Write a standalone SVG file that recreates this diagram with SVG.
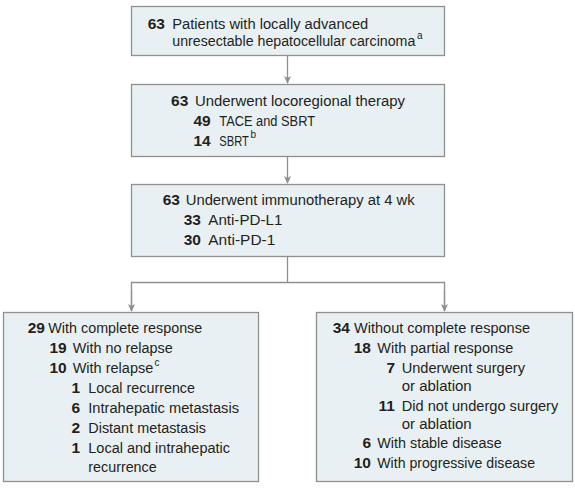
<svg xmlns="http://www.w3.org/2000/svg" width="575" height="488" viewBox="0 0 575 488">
<style>
.box{fill:#e9f0f4;stroke:#8f8f8f;stroke-width:1.3}
.t{font-family:"Liberation Sans",Arial,sans-serif;font-size:15.5px;fill:#231f20}
.n{font-weight:bold;text-anchor:end}
.s{font-size:10px}
.c{fill:none;stroke:#8f8f8f;stroke-width:1.3}
</style>
<defs>
<marker id="ah" markerWidth="8" markerHeight="10" refX="7" refY="4" orient="auto" markerUnits="userSpaceOnUse" viewBox="0 0 8 8">
<path d="M0,0.5 L8,4 L0,7.5 L2,4 Z" fill="#8f8f8f"/>
</marker>
</defs>
<g id="connectors">
<line class="c" x1="287.5" y1="55.5" x2="287.5" y2="83" marker-end="url(#ah)"/>
<line class="c" x1="287.5" y1="156.5" x2="287.5" y2="183" marker-end="url(#ah)"/>
<polyline class="c" points="287.5,256.5 287.5,282.5"/>
<polyline class="c" points="131.5,311 131.5,282.5 444.5,282.5 444.5,311" />
<line class="c" x1="131.5" y1="290" x2="131.5" y2="311" marker-end="url(#ah)"/>
<line class="c" x1="444.5" y1="290" x2="444.5" y2="311" marker-end="url(#ah)"/>
</g>
<g id="n1">
<rect class="box" x="131.5" y="6.5" width="313" height="49"/>
<text class="t n" x="165" y="28.5">63</text>
<text class="t" x="172.3" y="28.5" textLength="196" lengthAdjust="spacingAndGlyphs">Patients with locally advanced</text>
<text class="t" x="172.3" y="46" textLength="243" lengthAdjust="spacingAndGlyphs">unresectable hepatocellular carcinoma</text>
<text class="t s" x="417" y="38.5">a</text>
</g>
<g id="n2">
<rect class="box" x="131.5" y="84.5" width="313" height="72"/>
<text class="t n" x="188.3" y="106">63</text>
<text class="t" x="195" y="106" textLength="210" lengthAdjust="spacingAndGlyphs">Underwent locoregional therapy</text>
<text class="t n" x="210.7" y="126">49</text>
<text class="t" x="219.3" y="126" textLength="95.7" lengthAdjust="spacingAndGlyphs">TACE and SBRT</text>
<text class="t n" x="210.7" y="145.5">14</text>
<text class="t" x="219.3" y="145.5" textLength="29.5" lengthAdjust="spacingAndGlyphs">SBRT</text>
<text class="t s" x="250.5" y="138">b</text>
</g>
<g id="n3">
<rect class="box" x="131.5" y="184.5" width="313" height="72"/>
<text class="t n" x="180" y="205">63</text>
<text class="t" x="185.7" y="205" textLength="229" lengthAdjust="spacingAndGlyphs">Underwent immunotherapy at 4 wk</text>
<text class="t n" x="201" y="225">33</text>
<text class="t" x="208.3" y="225" textLength="74" lengthAdjust="spacingAndGlyphs">Anti-PD-L1</text>
<text class="t n" x="201" y="245">30</text>
<text class="t" x="208.3" y="245" textLength="67" lengthAdjust="spacingAndGlyphs">Anti-PD-1</text>
</g>
<g id="n4">
<rect class="box" x="3.5" y="312.5" width="255" height="169"/>
<text class="t n" x="45" y="333.3">29</text>
<text class="t" x="48.3" y="333.3" textLength="154" lengthAdjust="spacingAndGlyphs">With complete response</text>
<text class="t n" x="66.7" y="353">19</text>
<text class="t" x="72.7" y="353" textLength="100" lengthAdjust="spacingAndGlyphs">With no relapse</text>
<text class="t n" x="66.7" y="373">10</text>
<text class="t" x="72.7" y="373" textLength="80.6" lengthAdjust="spacingAndGlyphs">With relapse</text>
<text class="t s" x="154.5" y="365.5">c</text>
<text class="t n" x="80" y="393">1</text>
<text class="t" x="88.3" y="393" textLength="106.7" lengthAdjust="spacingAndGlyphs">Local recurrence</text>
<text class="t n" x="80" y="413">6</text>
<text class="t" x="88.3" y="413" textLength="150.7" lengthAdjust="spacingAndGlyphs">Intrahepatic metastasis</text>
<text class="t n" x="80" y="433">2</text>
<text class="t" x="88.3" y="433" textLength="117.7" lengthAdjust="spacingAndGlyphs">Distant metastasis</text>
<text class="t n" x="80" y="453">1</text>
<text class="t" x="88.3" y="453" textLength="141.7" lengthAdjust="spacingAndGlyphs">Local and intrahepatic</text>
<text class="t" x="88.3" y="472" textLength="68.4" lengthAdjust="spacingAndGlyphs">recurrence</text>
</g>
<g id="n5">
<rect class="box" x="316.5" y="312.5" width="256" height="169"/>
<text class="t n" x="350" y="333.3">34</text>
<text class="t" x="354" y="333.3" textLength="176" lengthAdjust="spacingAndGlyphs">Without complete response</text>
<text class="t n" x="371" y="353">18</text>
<text class="t" x="377.3" y="353" textLength="136" lengthAdjust="spacingAndGlyphs">With partial response</text>
<text class="t n" x="395" y="373">7</text>
<text class="t" x="401.7" y="373" textLength="123.3" lengthAdjust="spacingAndGlyphs">Underwent surgery</text>
<text class="t" x="401.7" y="391" textLength="70" lengthAdjust="spacingAndGlyphs">or ablation</text>
<text class="t n" x="395" y="410.5">11</text>
<text class="t" x="401.7" y="410.5" textLength="156.6" lengthAdjust="spacingAndGlyphs">Did not undergo surgery</text>
<text class="t" x="401.7" y="428.5" textLength="70" lengthAdjust="spacingAndGlyphs">or ablation</text>
<text class="t n" x="371" y="447.5">6</text>
<text class="t" x="377.3" y="447.5" textLength="124.4" lengthAdjust="spacingAndGlyphs">With stable disease</text>
<text class="t n" x="371" y="467.5">10</text>
<text class="t" x="377.3" y="467.5" textLength="157.7" lengthAdjust="spacingAndGlyphs">With progressive disease</text>
</g>
</svg>
